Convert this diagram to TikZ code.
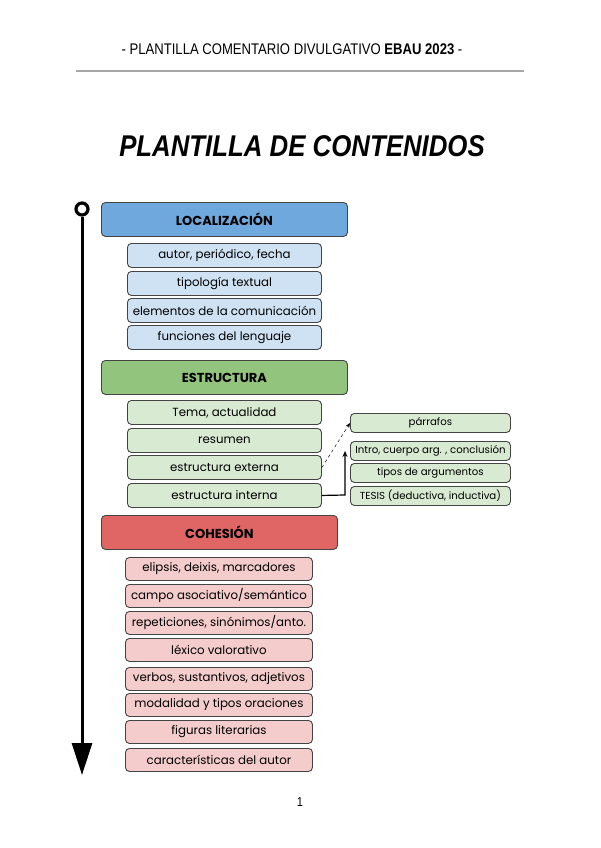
\documentclass[tikz,border=0pt]{standalone}
\usepackage{fontspec}
\setmainfont{Poppins}
\newfontfamily\headfont[FakeStretch=0.85]{Liberation Sans}
\newfontfamily\titlefont[FakeStretch=0.86]{Liberation Sans}
\usetikzlibrary{arrows.meta}
\definecolor{bordc}{HTML}{444444}
\definecolor{blueH}{HTML}{6FA8DC}
\definecolor{blueL}{HTML}{CFE2F3}
\definecolor{greenH}{HTML}{93C47D}
\definecolor{greenL}{HTML}{D9EAD3}
\definecolor{redH}{HTML}{E06666}
\definecolor{redL}{HTML}{F4CCCC}
\begin{document}
\begin{tikzpicture}[x=1pt,y=-1pt,
  base/.style={draw=bordc, line width=0.9pt, rounded corners=4pt, inner sep=0pt, anchor=north west},
  headbox/.style={base, minimum height=34pt, font=\fontsize{13}{14}\selectfont\bfseries},
  subbox/.style={base, minimum height=24pt, font=\fontsize{11.8}{13}\selectfont},
  sidebox/.style={base, fill=greenL, minimum width=160pt, minimum height=19pt, font=\fontsize{10.2}{12}\selectfont},
]
\useasboundingbox (0,0) rectangle (600,848);
\fill[white] (0,0) rectangle (600,848);
% header
\node[font=\headfont\fontsize{15.4}{17}\selectfont] (hdr) at (292,49) {- PLANTILLA COMENTARIO DIVULGATIVO \textbf{EBAU 2023} -};
\coordinate (hl) at (76,71);
\coordinate (hr) at (524,71);
\draw[line width=1.2pt, black!35] (hl) -- (hr);
\node[font=\titlefont\fontsize{30}{33}\selectfont\bfseries\itshape] (title) at (302,146) {PLANTILLA DE CONTENIDOS};
% timeline
\node[circle, draw=black, line width=3.2pt, minimum size=12pt, inner sep=0pt] (circ) at (82,209) {};
\coordinate (tlend) at (82,775);
\draw[line width=3pt, -{Triangle[length=32pt,width=20pt]}] (circ.south) -- (tlend);
% LOCALIZACION
\node[headbox, fill=blueH, minimum width=246pt] (loc) at (101,202) {LOCALIZACIÓN};
\node[subbox, fill=blueL, minimum width=194pt] (l1) at (127,243) {autor, periódico, fecha};
\node[subbox, fill=blueL, minimum width=194pt] (l2) at (127,271) {tipología textual};
\node[subbox, fill=blueL, minimum width=194pt] (l3) at (127,298) {elementos de la comunicación};
\node[subbox, fill=blueL, minimum width=194pt] (l4) at (127,325) {funciones del lenguaje};
% ESTRUCTURA
\node[headbox, fill=greenH, minimum width=246pt] (est) at (101,360) {ESTRUCTURA};
\node[subbox, fill=greenL, minimum width=194pt] (e1) at (127,400) {Tema, actualidad};
\node[subbox, fill=greenL, minimum width=194pt] (e2) at (127,428) {resumen};
\node[subbox, fill=greenL, minimum width=194pt] (e3) at (127,455) {estructura externa};
\node[subbox, fill=greenL, minimum width=194pt] (e4) at (127,483) {estructura interna};
\node[sidebox] (s1) at (350,413) {párrafos};
\node[sidebox] (s2) at (350,441) {Intro, cuerpo arg. , conclusión};
\node[sidebox] (s3) at (350,463) {tipos de argumentos};
\node[sidebox] (s4) at (350,486) {TESIS (deductiva, inductiva)};
\draw[dashed, line width=0.5pt, -{Stealth[length=5pt,width=4pt]}] (e3.east) -- (s1.west);
\coordinate (elb) at (345,495);
\draw[line width=1.2pt, -{Stealth[length=6pt,width=5pt]}] (e4.east) -- (elb) -- (elb |- s2.west);
% COHESION
\node[headbox, fill=redH, minimum width=236pt] (coh) at (101,515) {COHESIÓN};
\node[subbox, fill=redL, minimum width=187pt, minimum height=23pt] (c1) at (125,557) {elipsis, deixis, marcadores};
\node[subbox, fill=redL, minimum width=187pt, minimum height=23pt] (c2) at (125,584) {campo asociativo/semántico};
\node[subbox, fill=redL, minimum width=187pt, minimum height=23pt] (c3) at (125,611) {repeticiones, sinónimos/anto.};
\node[subbox, fill=redL, minimum width=187pt, minimum height=23pt] (c4) at (125,638) {léxico valorativo};
\node[subbox, fill=redL, minimum width=187pt, minimum height=23pt] (c5) at (125,667) {verbos, sustantivos, adjetivos};
\node[subbox, fill=redL, minimum width=187pt, minimum height=23pt] (c6) at (125,693) {modalidad y tipos oraciones};
\node[subbox, fill=redL, minimum width=187pt, minimum height=23pt] (c7) at (125,720) {figuras literarias};
\node[subbox, fill=redL, minimum width=187pt, minimum height=23pt] (c8) at (125,748) {características del autor};
% page number
\node[font=\headfont\fontsize{13}{14}\selectfont] (pg) at (300,802) {1};
\end{tikzpicture}
\end{document}
